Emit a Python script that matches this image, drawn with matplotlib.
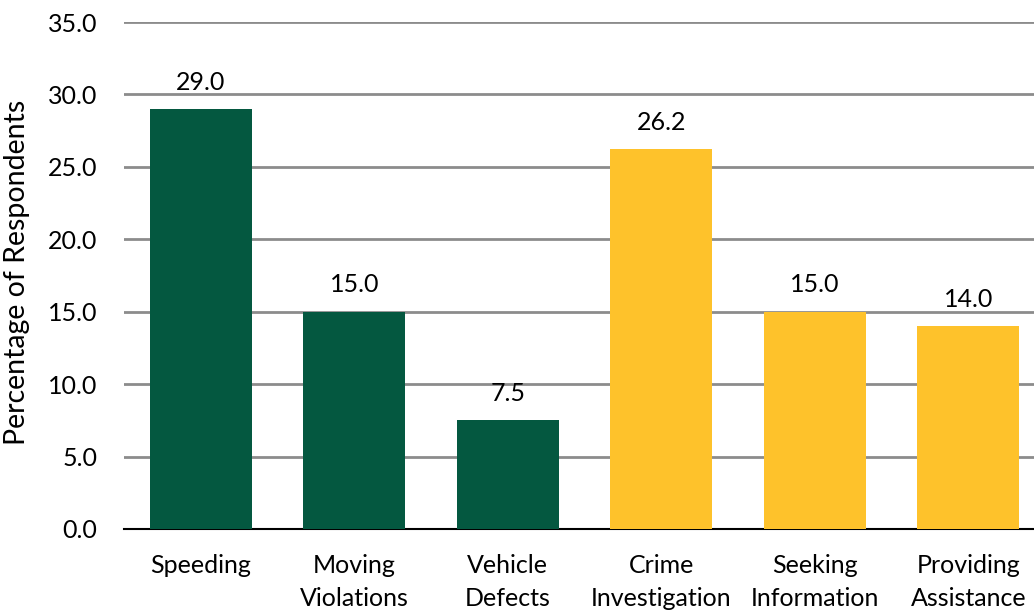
import matplotlib
matplotlib.use("Agg")
import matplotlib.pyplot as plt

categories = ["Speeding", "Moving\nViolations", "Vehicle\nDefects",
              "Crime\nInvestigation", "Seeking\nInformation", "Providing\nAssistance"]
values = [29.0, 15.0, 7.5, 26.2, 15.0, 14.0]
groups = ["traffic", "traffic", "traffic", "service", "service", "service"]
yticks = [0, 5, 10, 15, 20, 25, 30, 35]

group_colors = {"traffic": "#045840", "service": "#FEC22B"}

plt.rcParams["font.family"] = ["Lato", "DejaVu Sans"]

fig = plt.figure(figsize=(10.34, 6.10), dpi=100)
W, H = 1034, 610
ax = fig.add_axes([124 / W, (H - 529) / H, (1045 - 124) / W, (529 - 22) / H])

x = list(range(len(categories)))
colors = [group_colors[g] for g in groups]
ax.bar(x, values, width=0.665, color=colors, zorder=3)

for xi, v in zip(x, values):
    ax.annotate(f"{v:.1f}", (xi, v), xytext=(0, 11), textcoords="offset points",
                ha="center", va="bottom", fontsize=18, color="black")

ax.set_xlim(-0.5, len(categories) - 0.5)
ax.set_ylim(0, 35)
ax.set_yticks(yticks)
ax.set_yticklabels([f"{t:.1f}" for t in yticks], fontsize=18)
ax.set_xticks(x)
ax.set_xticklabels(categories, fontsize=18, linespacing=1.5)
ax.tick_params(axis="both", length=0)
ax.tick_params(axis="y", pad=19)
ax.tick_params(axis="x", pad=18)

ax.yaxis.grid(True, color="#8c8c8c", linewidth=2, zorder=0)
ax.set_axisbelow(True)
for side in ("left", "right", "top"):
    ax.spines[side].set_visible(False)
ax.spines["bottom"].set_color("black")
ax.spines["bottom"].set_linewidth(1.5)
ax.spines["bottom"].set_zorder(2)

ax.set_ylabel("Percentage of Respondents", fontsize=20.5)
ax.yaxis.set_label_coords(-0.102, 0.507)

fig.savefig("out.png", dpi=100)
